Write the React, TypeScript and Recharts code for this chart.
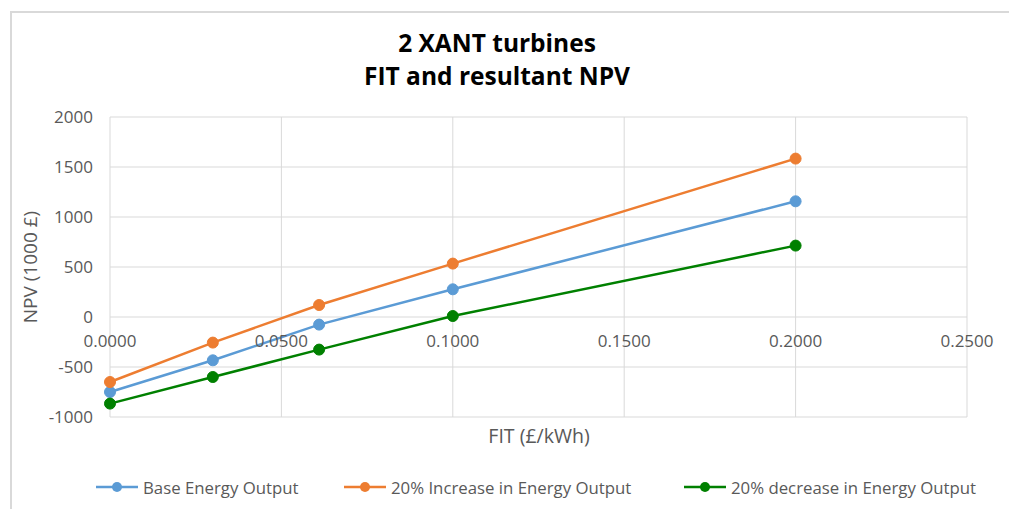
import React from 'react';
import { LineChart, Line, XAxis, YAxis, CartesianGrid } from 'recharts';

const fitValues = [0, 0.03, 0.061, 0.1, 0.2];
const baseNpv = [-750, -433, -76, 277, 1157];
const increaseNpv = [-650, -256, 120, 534, 1584];
const decreaseNpv = [-866, -600, -326, 10, 714];

const xTicks = [0, 0.05, 0.1, 0.15, 0.2, 0.25];
const yTicks = [-1000, -500, 0, 500, 1000, 1500, 2000];

const seriesKeys = ['base', 'inc', 'dec'];
const seriesNames = ['Base Energy Output', '20% Increase in Energy Output', '20% decrease in Energy Output'];
const seriesColors = ['#5B9BD5', '#ED7D31', '#008000'];

const titleLines = ['2 XANT turbines', 'FIT and resultant NPV'];
const xTitle = 'FIT (£/kWh)';
const yTitle = 'NPV (1000 £)';

const data = fitValues.map((fit, i) => ({
  fit,
  base: baseNpv[i],
  inc: increaseNpv[i],
  dec: decreaseNpv[i],
}));

const FONT = "'Open Sans', sans-serif";
const TEXT = '#595959';

const XTick = (props: any) => {
  const { x, payload } = props;
  return (
    <text x={x} y={341} dy="0.35em" textAnchor="middle" fill={TEXT} fontSize={17} fontFamily={FONT}>
      {Number(payload.value).toFixed(4)}
    </text>
  );
};

const legendX = [96, 344, 684];

export default function App() {
  return (
    <div style={{ position: 'absolute', left: 0, top: 0, width: 1009, height: 509, background: '#fff', overflow: 'hidden' }}>
      <div style={{ position: 'absolute', left: 10, top: 11, width: 1100, height: 600, borderTop: '2px solid #D9D9D9', borderLeft: '2px solid #D9D9D9', boxSizing: 'border-box' }} />
      <LineChart width={1009} height={509} data={data} margin={{ top: 117, right: 42, bottom: 0, left: 0 }}>
        <CartesianGrid stroke="#D9D9D9" strokeWidth={1} verticalValues={xTicks} horizontalValues={yTicks} />
        <XAxis
          type="number"
          dataKey="fit"
          domain={[0, 0.25]}
          ticks={xTicks}
          axisLine={false}
          tickLine={false}
          height={92}
          tick={<XTick />}
          interval={0}
        />
        <YAxis
          type="number"
          domain={[-1000, 2000]}
          ticks={yTicks}
          axisLine={false}
          tickLine={false}
          width={110}
          tickMargin={11}
          tick={{ fill: TEXT, fontSize: 17, fontFamily: FONT }}
          interval={0}
        />
        {seriesKeys.map((k, i) => (
          <Line
            key={k}
            type="linear"
            dataKey={k}
            name={seriesNames[i]}
            stroke={seriesColors[i]}
            strokeWidth={2.5}
            dot={{ r: 5.5, fill: seriesColors[i], stroke: seriesColors[i], strokeWidth: 1 }}
            activeDot={false}
            isAnimationActive={false}
          />
        ))}
      </LineChart>
      <div style={{ position: 'absolute', left: 297, top: 26, width: 400, textAlign: 'center', fontFamily: FONT, fontWeight: 700, fontSize: 24.5, lineHeight: '33px', color: '#000' }}>
        {titleLines.map((t) => (
          <div key={t}>{t}</div>
        ))}
      </div>
      <div style={{ position: 'absolute', left: 339, top: 423, width: 400, textAlign: 'center', fontFamily: FONT, fontSize: 19.5, lineHeight: '26px', color: TEXT }}>
        {xTitle}
      </div>
      <div style={{ position: 'absolute', left: 30, top: 267, width: 0, height: 0 }}>
        <div style={{ position: 'absolute', left: -100, top: -13, width: 200, textAlign: 'center', transform: 'rotate(-90deg)', fontFamily: FONT, fontSize: 19, lineHeight: '26px', color: TEXT, whiteSpace: 'nowrap' }}>
          {yTitle}
        </div>
      </div>
      {seriesNames.map((n, i) => (
        <div key={n} style={{ position: 'absolute', left: legendX[i], top: 475, height: 24, display: 'flex', alignItems: 'center', fontFamily: FONT, fontSize: 16.8, color: TEXT, whiteSpace: 'nowrap' }}>
          <svg width={42} height={14} style={{ marginRight: 5 }}>
            <line x1={0} y1={7} x2={42} y2={7} stroke={seriesColors[i]} strokeWidth={2.5} />
            <circle cx={21} cy={7} r={5} fill={seriesColors[i]} />
          </svg>
          <span>{n}</span>
        </div>
      ))}
    </div>
  );
}
